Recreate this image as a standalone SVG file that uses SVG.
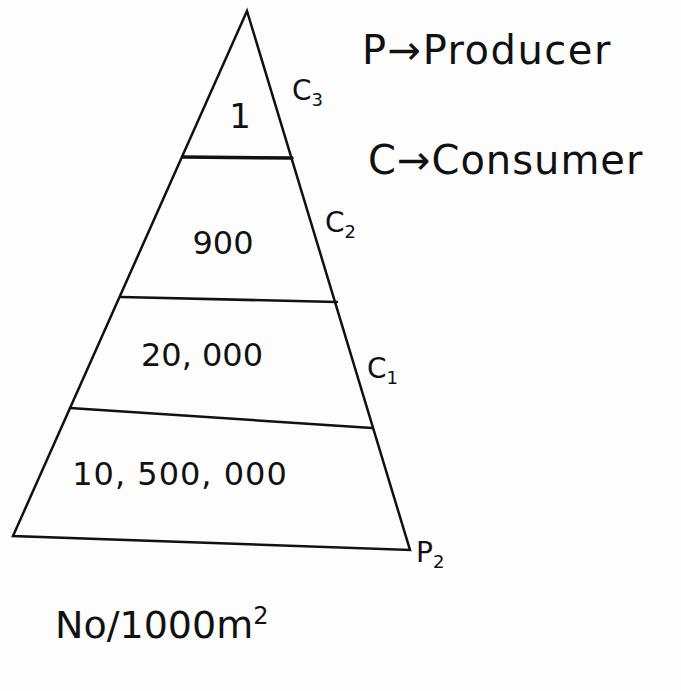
<svg xmlns="http://www.w3.org/2000/svg" width="681" height="691" viewBox="0 0 681 691">
<style>
.ln{stroke:#111;stroke-width:2.5;fill:none;stroke-linecap:round}
.t{font-family:"DejaVu Sans",sans-serif;fill:#111}
</style>
<rect width="681" height="691" fill="#fdfdfd"/>
<g id="pyramid">
<path class="ln" d="M247,11 L13,536 L410,550 Z"/>
<path class="ln" d="M183,157 L292,158" style="stroke-width:3.5"/>
<path class="ln" d="M121,297 L337,302"/>
<path class="ln" d="M70,408 L372,428"/>
</g>
<g id="connectors"></g>
<g id="level-c3"><text class="t" x="240" y="128" font-size="34" text-anchor="middle">1</text></g>
<g id="level-c2"><text class="t" x="223" y="254" font-size="32" text-anchor="middle">900</text></g>
<g id="level-c1"><text class="t" x="202" y="366" font-size="32" text-anchor="middle">20, 000</text></g>
<g id="level-p"><text class="t" x="180" y="485" font-size="32" text-anchor="middle" letter-spacing="1">10, 500, 000</text></g>
<g id="labels">
<text class="t" x="292" y="100" font-size="28">C<tspan font-size="18" dy="6">3</tspan></text>
<text class="t" x="325" y="232" font-size="28">C<tspan font-size="18" dy="6">2</tspan></text>
<text class="t" x="367" y="378" font-size="28">C<tspan font-size="18" dy="6">1</tspan></text>
<text class="t" x="416" y="562" font-size="28">P<tspan font-size="18" dy="6">2</tspan></text>
</g>
<g id="legend">
<text class="t" x="362" y="64" font-size="40" letter-spacing="1.5">P→Producer</text>
<text class="t" x="368" y="174" font-size="40" letter-spacing="1">C→Consumer</text>
</g>
<g id="unit"><text class="t" x="55" y="638" font-size="38">No/1000m<tspan font-size="24" dy="-14">2</tspan></text></g>
</svg>
